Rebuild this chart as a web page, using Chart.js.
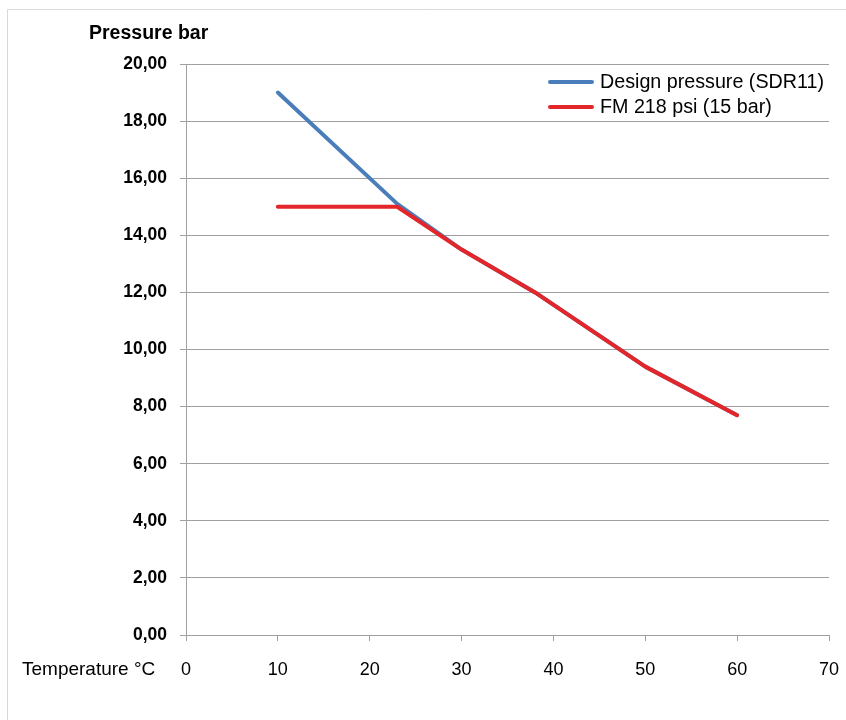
<!DOCTYPE html>
<html><head><meta charset="utf-8">
<script src="https://cdn.jsdelivr.net/npm/chart.js@4.4.1/dist/chart.umd.min.js"></script>
<style>html,body{margin:0;padding:0;background:#fff}canvas{display:block}</style>
</head><body>
<canvas id="c" width="846" height="720"></canvas>
<script>
const temperatures = [10, 23, 30, 38, 50, 60];
const designPressure = [19, 15.1, 13.5, 12, 9.4, 7.7];
const fmPressure = [15, 15, 13.5, 12, 9.4, 7.7];
const seriesNames = ['Design pressure (SDR11)', 'FM 218 psi (15 bar)'];
const seriesColors = ['#4a7ebb', '#e3262a'];
const yAxisTitle = 'Pressure bar';
const xAxisTitle = 'Temperature °C';

const GRID = '#a0a0a0';
const FONT = '"Liberation Sans", Arial, sans-serif';

const decor = {
  id: 'decor',
  beforeDraw(chart) {
    const ctx = chart.ctx;
    ctx.save();
    ctx.fillStyle = '#fff';
    ctx.fillRect(0, 0, chart.width, chart.height);
    ctx.strokeStyle = '#d9d9d9';
    ctx.lineWidth = 1;
    ctx.beginPath();
    ctx.moveTo(7.5, 730);
    ctx.lineTo(7.5, 9.5);
    ctx.lineTo(860, 9.5);
    ctx.stroke();
    ctx.restore();
  },
  afterDraw(chart) {
    const ctx = chart.ctx;
    ctx.save();
    ctx.fillStyle = '#000';
    ctx.textBaseline = 'alphabetic';
    ctx.textAlign = 'left';
    ctx.font = 'bold 19.5px ' + FONT;
    ctx.fillText(yAxisTitle, 89, 39);
    ctx.font = '19px ' + FONT;
    ctx.fillText(xAxisTitle, 22, 675);
    // legend
    ctx.font = '19.7px ' + FONT;
    ctx.textBaseline = 'middle';
    const rows = [82, 107];
    chart.data.datasets.forEach((ds, i) => {
      const y = rows[i];
      ctx.strokeStyle = ds.borderColor;
      ctx.lineWidth = 4;
      ctx.lineCap = 'round';
      ctx.beginPath();
      ctx.moveTo(550, y);
      ctx.lineTo(592, y);
      ctx.stroke();
      ctx.fillStyle = '#000';
      ctx.fillText(ds.label, 600, y + 1);
    });
    ctx.restore();
  }
};

const toPoints = (xs, ys) => xs.map((x, i) => ({ x: x, y: ys[i] }));

new Chart(document.getElementById('c'), {
  type: 'line',
  data: {
    datasets: [
      { label: seriesNames[0], data: toPoints(temperatures, designPressure), borderColor: seriesColors[0], backgroundColor: seriesColors[0], borderWidth: 4, pointRadius: 0, tension: 0, order: 1, borderCapStyle: 'round', borderJoinStyle: 'round' },
      { label: seriesNames[1], data: toPoints(temperatures, fmPressure), borderColor: seriesColors[1], backgroundColor: seriesColors[1], borderWidth: 4, pointRadius: 0, tension: 0, order: 0, borderCapStyle: 'round', borderJoinStyle: 'round' }
    ]
  },
  options: {
    responsive: false,
    animation: false,
    devicePixelRatio: 1,
    layout: { padding: { left: 0, right: 17, top: 64, bottom: 0 } },
    plugins: { legend: { display: false }, tooltip: { enabled: false } },
    scales: {
      x: {
        type: 'linear', min: 0, max: 70,
        ticks: { stepSize: 10, color: '#000', font: { family: FONT, size: 18 }, padding: 18, maxRotation: 0 },
        grid: { drawOnChartArea: false, drawTicks: true, tickLength: 6, color: GRID, lineWidth: 1 },
        border: { display: true, color: GRID, width: 1 },
        afterFit(s) { s.height = 85; s.paddingRight = 0; s.paddingLeft = 0; }
      },
      y: {
        min: 0, max: 20,
        ticks: { stepSize: 2, color: '#000', font: { family: FONT, size: 17.5, weight: 'bold' }, padding: 13,
          callback: v => v.toFixed(2).replace('.', ',') },
        grid: { drawOnChartArea: true, drawTicks: true, tickLength: 6, color: GRID, lineWidth: 1 },
        border: { display: true, color: GRID, width: 1 },
        afterFit(s) { s.width = 186; s.paddingTop = 0; s.paddingBottom = 0; }
      }
    }
  },
  plugins: [decor]
});
</script>
</body></html>
